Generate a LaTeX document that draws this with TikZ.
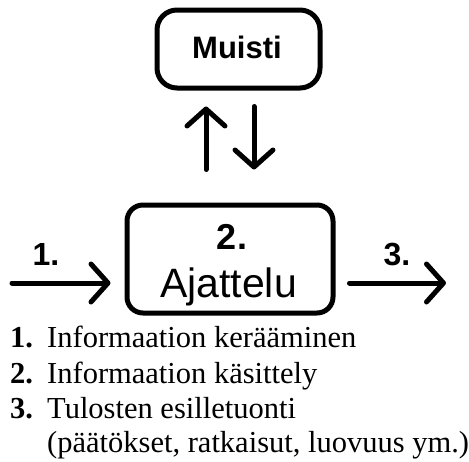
\documentclass[tikz,border=0pt]{standalone}
\usepackage{fontspec}
\setmainfont{Liberation Serif}
\setsansfont{Liberation Sans}
\usetikzlibrary{arrows.meta,calc,positioning}
\tikzset{%
	box/.style   = {draw, rectangle, line width=5pt, inner sep=0pt},
	arrow/.style = {line width=5pt, line cap=round, -{Straight Barb[length=17pt,width=38pt,round]}},
	numlbl/.style = {anchor=base, inner sep=0pt, font=\sffamily\bfseries\fontsize{32}{32}\selectfont},
	item/.style  = {anchor=base west, inner sep=0pt, font=\fontsize{30.5}{30.5}\selectfont},
}

\begin{document}
\begin{tikzpicture}[x=1pt,y=-1pt]
			\useasboundingbox (0,0) rectangle (469,461);
			\node[box, rounded corners=20pt, minimum width=163pt, minimum height=78pt] (muisti) at (238.5,49) {};
			\node[anchor=base, font=\sffamily\bfseries\fontsize{31}{31}\selectfont] (muistitxt) at (237,58) {Muisti};
			\node[box, rounded corners=16pt, minimum width=206pt, minimum height=108pt] (ajattelu) at (230,259) {};
			\node[numlbl, font=\sffamily\bfseries\fontsize{36}{36}\selectfont] (vaihe2) at (232,249) {2.};
			\node[anchor=base, inner sep=0pt, font=\sffamily\fontsize{41}{41}\selectfont] (ajattelutxt) at (228.5,297) {Ajattelu};
			\draw[arrow, shorten <=33pt, shorten >=16pt] ([xshift=-24pt]ajattelu.north) -- ([xshift=-24pt]ajattelu.north |- muisti.south);
			\draw[arrow, shorten <=16pt, shorten >=33pt] ([xshift=24pt]ajattelu.north |- muisti.south) -- ([xshift=24pt]ajattelu.north);
			\coordinate (sisaan) at (12,283);
			\coordinate (ulos) at (446,283);
			\draw[arrow, shorten >=14pt] (sisaan) -- (sisaan -| ajattelu.west);
			\draw[arrow, shorten <=14pt] (ajattelu.east |- ulos) -- (ulos);
			\node[numlbl] (vaihe1) at (46,265) {1.};
			\node[numlbl] (vaihe3) at (397,265) {3.};
			\node[item] (nro1) at (10,347) {\bfseries 1.};
			\node[item] (rivi1) at (47,347) {Informaation kerääminen};
			\node[item] (nro2) at (10,383) {\bfseries 2.};
			\node[item] (rivi2) at (47,383) {Informaation käsittely};
			\node[item] (nro3) at (10,418) {\bfseries 3.};
			\node[item] (rivi3) at (47,418) {Tulosten esilletuonti};
			\node[item] (rivi4) at (47,452) {(päätökset, ratkaisut, luovuus ym.)};
			\end{tikzpicture}
\end{document}
